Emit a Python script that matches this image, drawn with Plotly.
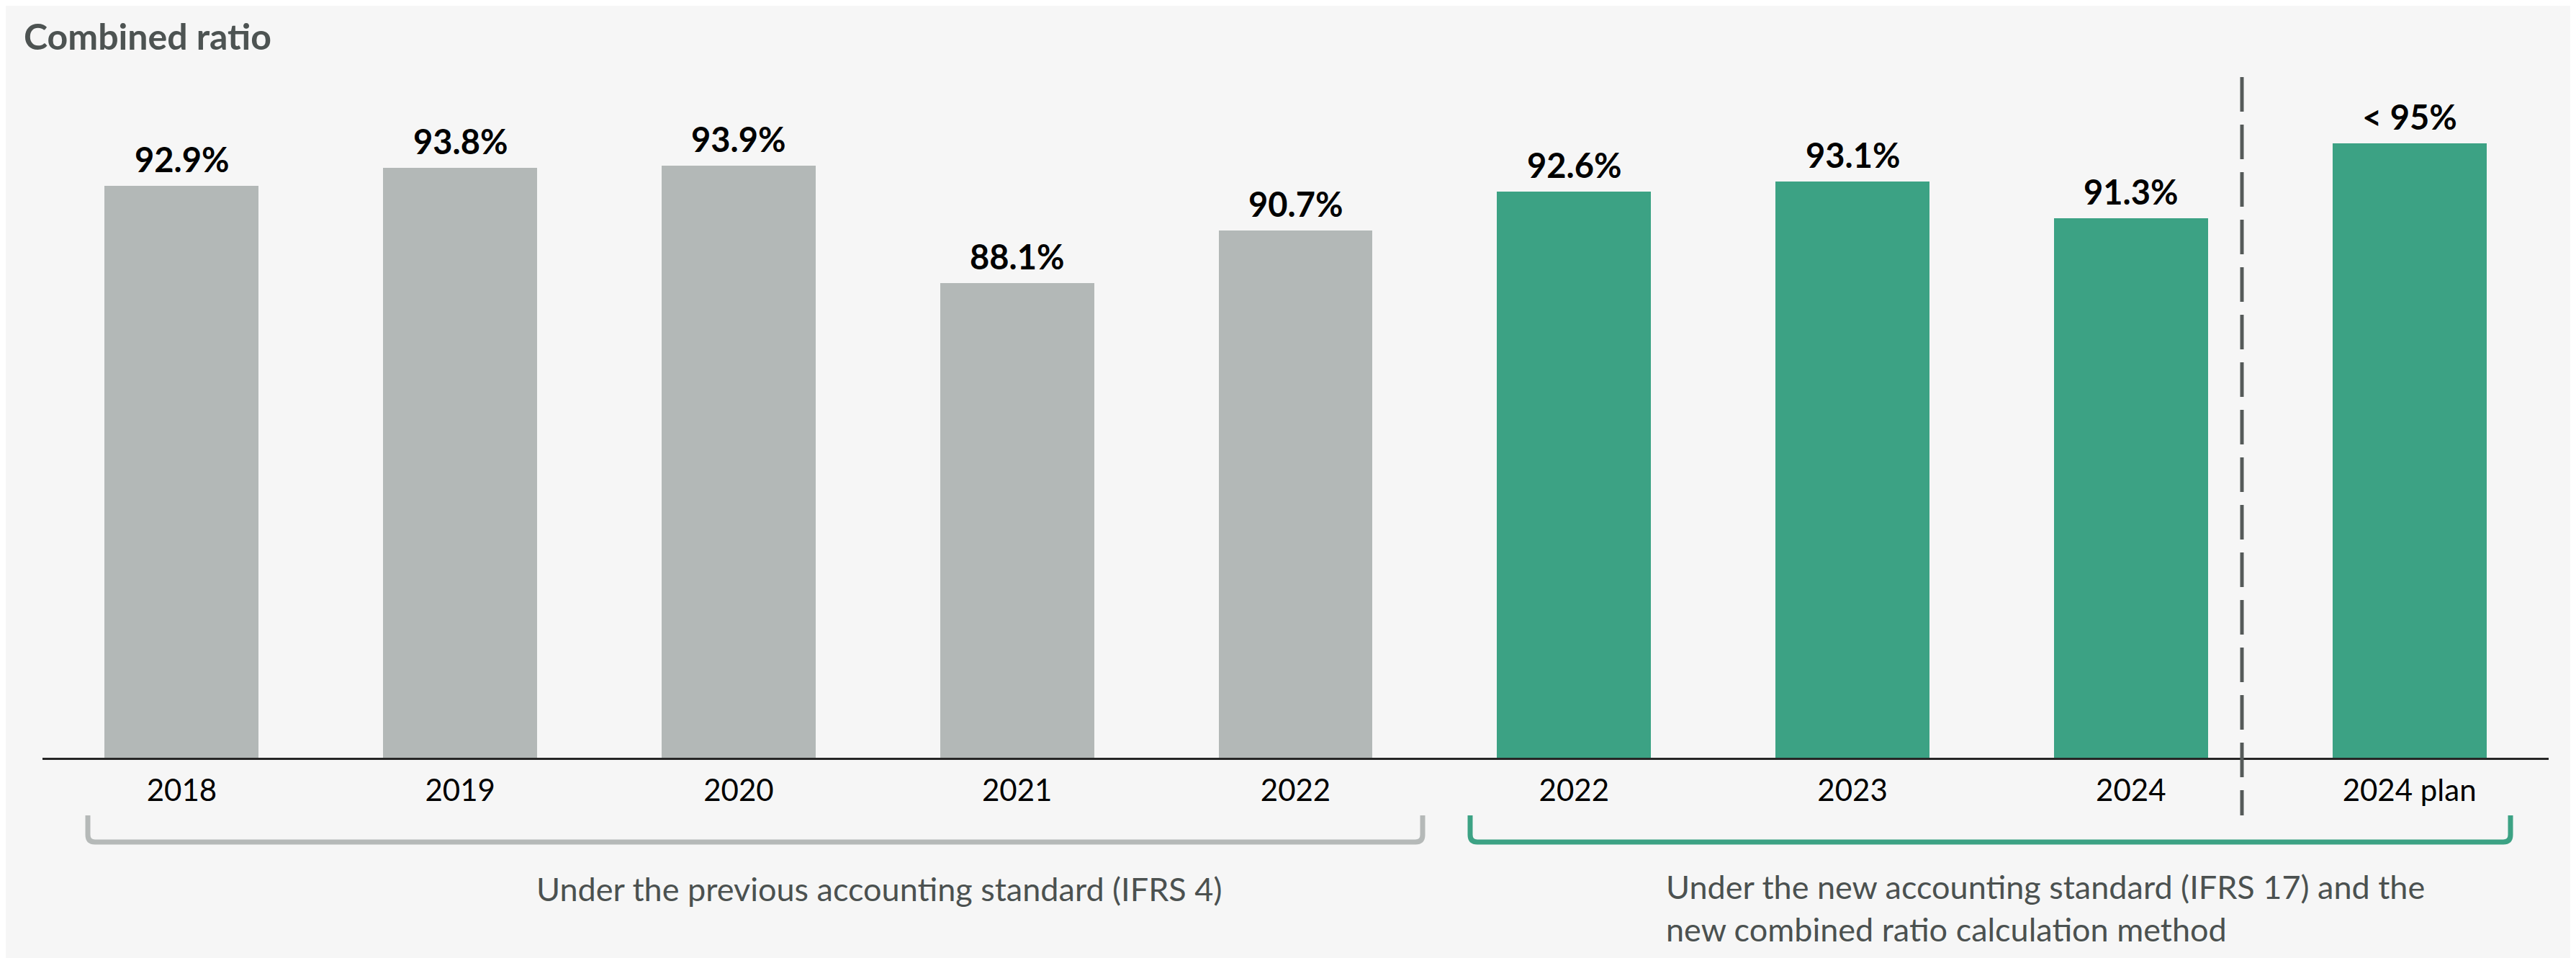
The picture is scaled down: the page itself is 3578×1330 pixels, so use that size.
import plotly.graph_objects as go

# ---- data ----
categories = ["2018", "2019", "2020", "2021", "2022", "2022", "2023", "2024", "2024 plan"]
ratios = [92.9, 93.8, 93.9, 88.1, 90.7, 92.6, 93.1, 91.3, 95.0]
value_labels = ["92.9%", "93.8%", "93.9%", "88.1%", "90.7%", "92.6%", "93.1%", "91.3%", "< 95%"]
standard = ["IFRS 4"] * 5 + ["IFRS 17"] * 4
group_texts = [
    "Under the previous accounting standard (IFRS 4)",
    "Under the new accounting standard (IFRS 17) and the<br>new combined ratio calculation method",
]
chart_title = "Combined ratio"

# ---- layout geometry (figure is placed at an 8px page offset) ----
W, H = 3578, 1330
OFF = 8
L, R, T, B = 51, 46, 92, 286
PW, PH = W - L - R, H - T - B
XMIN, XMAX = -0.5, len(categories) - 0.5
PX_PER_UNIT = 28.16
YMIN = 64.7
YMAX = YMIN + PH / PX_PER_UNIT

GREY = "#b3b8b7"
GREEN = "#3ca284"
TEXT_GREY = "#4b5150"
FONT = "Lato, 'Open Sans', sans-serif"
colors = {"IFRS 4": GREY, "IFRS 17": GREEN}


def px_x(px):  # page pixel -> paper x
    return (px - OFF - L) / PW


def px_y(py):  # page pixel -> paper y
    return (H - B - (py - OFF)) / PH


def dx(px):  # page pixel -> data x
    return XMIN + (px - OFF - L) / PW * (XMAX - XMIN)


xs = list(range(len(categories)))

fig = go.Figure()
fig.add_trace(go.Bar(
    x=xs, y=ratios, width=0.553,
    marker=dict(color=[colors[s] for s in standard], line=dict(width=0)),
    hoverinfo="skip",
))

annotations = []
for x, v, lab in zip(xs, ratios, value_labels):
    annotations.append(dict(
        x=x, y=v, xref="x", yref="y", text=lab, showarrow=False,
        xanchor="center", yanchor="bottom", yshift=7,
        font=dict(family=FONT, size=47, color="#000000", weight="bold"),
    ))

# title
annotations.append(dict(
    x=px_x(31), y=px_y(18), xref="paper", yref="paper", text=chart_title,
    showarrow=False, xanchor="left", yanchor="top",
    font=dict(family=FONT, size=50, color="#4d5352", weight="bold"),
))

# group captions
annotations.append(dict(
    x=dx(1221), y=px_y(1205), xref="x", yref="paper", text=group_texts[0],
    showarrow=False, xanchor="center", yanchor="top",
    font=dict(family=FONT, size=45, color=TEXT_GREY),
))
annotations.append(dict(
    x=dx(2312), y=px_y(1202), xref="x", yref="paper", text=group_texts[1],
    showarrow=False, xanchor="left", yanchor="top", align="left",
    font=dict(family=FONT, size=45, color=TEXT_GREY),
))


def bracket(x0, x1, ytop, ybot, color):
    rx = 10 / PW * (XMAX - XMIN)
    ry = 10 / PH
    path = (f"M {x0},{ytop} L {x0},{ybot + ry} Q {x0},{ybot} {x0 + rx},{ybot} "
            f"L {x1 - rx},{ybot} Q {x1},{ybot} {x1},{ybot + ry} L {x1},{ytop}")
    return dict(type="path", xref="x", yref="paper", path=path,
                line=dict(color=color, width=7), layer="above")


shapes = [
    # dashed separator between actuals and plan
    dict(type="line", xref="x", yref="paper",
         x0=dx(3114), x1=dx(3114), y0=px_y(107), y1=px_y(1132),
         line=dict(color="#555a59", width=5, dash="48px,18px"), layer="above"),
    bracket(dx(122), dx(1976), px_y(1132), px_y(1169), "#b5b9b8"),
    bracket(dx(2042), dx(3487), px_y(1132), px_y(1169), "#3ca284"),
]

fig.update_layout(
    width=W, height=H,
    margin=dict(l=L, r=R, t=T, b=B, pad=0),
    paper_bgcolor="#f6f6f6",
    plot_bgcolor="rgba(0,0,0,0)",
    showlegend=False,
    font=dict(family=FONT),
    annotations=annotations,
    shapes=shapes,
    bargap=0,
)
fig.update_xaxes(
    range=[XMIN, XMAX], tickmode="array", tickvals=xs, ticktext=categories,
    tickfont=dict(family=FONT, size=42, color="#000000"),
    ticks="outside", ticklen=7, tickcolor="rgba(0,0,0,0)",
    showline=True, linecolor="#262626", linewidth=3,
    showgrid=False, zeroline=False, fixedrange=True,
)
fig.update_yaxes(range=[YMIN, YMAX], visible=False, fixedrange=True)

fig.write_html("out.html", config={"displayModeBar": False})
